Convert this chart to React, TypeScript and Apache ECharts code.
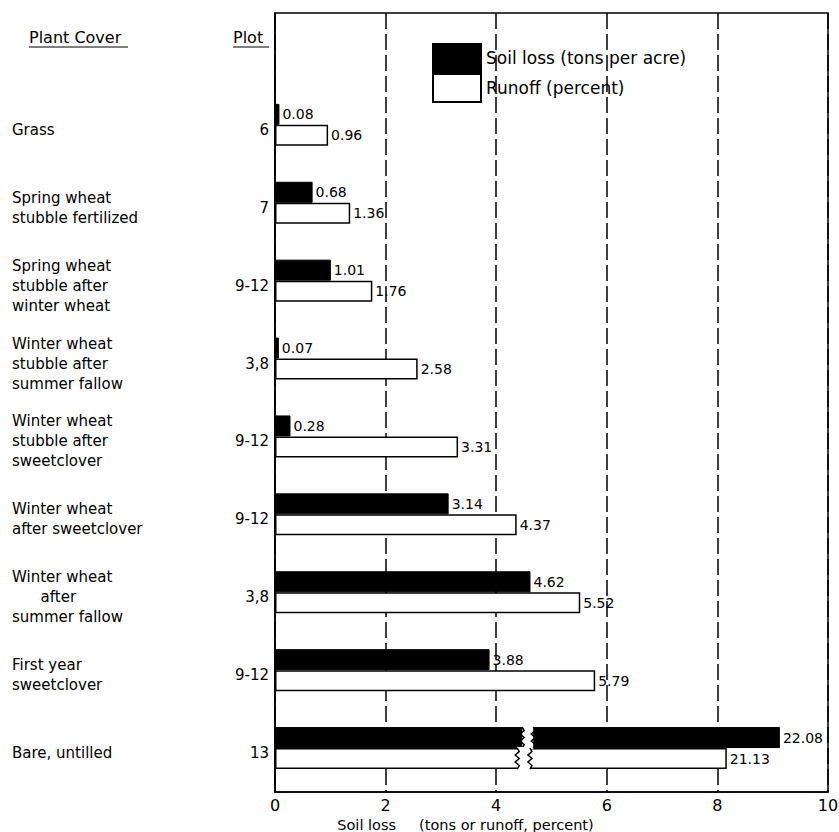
import React, { useEffect, useRef } from "react";
import * as echarts from "echarts";

// ---- data ----
const plantCover = [
  "",
  "Grass",
  "Spring wheat\nstubble fertilized",
  "Spring wheat\nstubble after\nwinter wheat",
  "Winter wheat\nstubble after\nsummer fallow",
  "Winter wheat\nstubble after\nsweetclover",
  "Winter wheat\nafter sweetclover",
  "Winter wheat\n      after\nsummer fallow",
  "First year\nsweetclover",
  "Bare, untilled",
];
const plots = ["", "6", "7", "9-12", "3,8", "9-12", "9-12", "3,8", "9-12", "13"];
const soilLoss = [null, 0.08, 0.68, 1.01, 0.07, 0.28, 3.14, 4.62, 3.88, 22.08];
const runoff = [null, 0.96, 1.36, 1.76, 2.58, 3.31, 4.37, 5.52, 5.79, 21.13];
// broken bars (values beyond the axis): drawn length and break range on the scale
const soilBrokenEnd = 9.13;
const runoffBrokenEnd = 8.17;
const soilBreak = [4.47, 4.67];
const runoffBreak = [4.38, 4.61];
const xTicks = [0, 2, 4, 6, 8, 10];

const AXIS_MAX = 10;
const BAR_W = 21;
const SPACER_W = 10;
const FONT = "DejaVu Sans";

export default function App() {
  const ref = useRef<HTMLDivElement>(null);
  useEffect(() => {
    if (!ref.current) return;
    const chart = echarts.init(ref.current, undefined, { renderer: "svg" });

    const soilShown = soilLoss.map((v) => (v != null && v > AXIS_MAX ? soilBrokenEnd : v));
    const runoffShown = runoff.map((v) => (v != null && v > AXIS_MAX ? runoffBrokenEnd : v));
    const bareIdx = soilLoss.findIndex((v) => v != null && v > AXIS_MAX);

    const breakData = [
      [soilBreak[0], soilBreak[1], bareIdx, 0],
      [runoffBreak[0], runoffBreak[1], bareIdx, 1],
    ];

    const wave = (x: number, y0: number, y1: number) => {
      const pts: number[][] = [];
      const n = 6;
      for (let i = 0; i <= n; i++) {
        const y = y0 + ((y1 - y0) * i) / n;
        const dx = i === 0 || i === n ? 0 : i % 2 === 0 ? -2 : 2;
        pts.push([x + dx, y]);
      }
      return pts;
    };

    const labelStyle = {
      show: true,
      position: "right",
      distance: 3,
      fontFamily: FONT,
      fontSize: 14,
      color: "#000",
    };

    const option: any = {
      animation: false,
      backgroundColor: "#fff",
      textStyle: { fontFamily: FONT, color: "#000" },
      grid: {
        left: 275,
        right: 11,
        top: 13,
        bottom: 40,
        containLabel: false,
        outerBoundsMode: "none",
        show: true,
        borderColor: "#000",
        borderWidth: 1.5,
      },
      legend: {
        orient: "vertical",
        left: 432,
        top: 43,
        padding: 0,
        itemGap: 0,
        itemWidth: 48,
        itemHeight: 28,
        icon: "rect",
        data: ["Soil loss (tons per acre)", "Runoff (percent)"],
        textStyle: { fontFamily: FONT, fontSize: 17, color: "#000" },
      },
      xAxis: {
        type: "value",
        min: 0,
        max: AXIS_MAX,
        interval: 2,
        axisLine: { show: true, lineStyle: { color: "#000", width: 1.5 } },
        axisTick: { show: false },
        axisLabel: {
          fontFamily: FONT,
          fontSize: 16,
          color: "#000",
          margin: 5,
          formatter: (v: number) => (xTicks.includes(v) ? String(v) : ""),
        },
        splitLine: {
          show: true,
          lineStyle: { color: "#000", width: 1.5, type: [16, 5] },
        },
        name: "Soil loss     (tons or runoff, percent)",
        nameLocation: "middle",
        nameGap: 22,
        nameTextStyle: {
          fontFamily: FONT,
          fontSize: 14.5,
          color: "#000",
          padding: [0, 172, 0, 0],
        },
      },
      yAxis: [
        {
          type: "category",
          inverse: true,
          data: plantCover,
          axisLine: { show: true, lineStyle: { color: "#000", width: 1.5 } },
          axisTick: { show: false },
          splitLine: { show: false },
          axisLabel: {
            fontFamily: FONT,
            fontSize: 15,
            color: "#000",
            margin: 6,
            formatter: (_v: string, i: number) => plots[i],
          },
        },
        {
          type: "category",
          inverse: true,
          position: "left",
          data: plantCover,
          axisLine: { show: false },
          axisTick: { show: false },
          splitLine: { show: false },
          axisLabel: {
            fontFamily: FONT,
            fontSize: 15,
            lineHeight: 20,
            color: "#000",
            align: "left",
            margin: 263,
          },
        },
      ],
      series: [
        {
          name: "Soil loss (tons per acre)",
          type: "bar",
          yAxisIndex: 0,
          data: soilShown,
          barWidth: BAR_W,
          barGap: "0%",
          itemStyle: { color: "#000", borderColor: "#000", borderWidth: 1 },
          label: {
            ...labelStyle,
            formatter: (p: any) => (soilLoss[p.dataIndex] == null ? "" : String(soilLoss[p.dataIndex])),
          },
        },
        {
          name: "Runoff (percent)",
          type: "bar",
          yAxisIndex: 0,
          data: runoffShown,
          barWidth: BAR_W,
          barGap: "0%",
          itemStyle: { color: "#fff", borderColor: "#000", borderWidth: 1.5 },
          label: {
            ...labelStyle,
            formatter: (p: any) => (runoff[p.dataIndex] == null ? "" : String(runoff[p.dataIndex])),
          },
        },
        {
          // empty spacer: lifts each bar pair slightly above the row centre, as in the original
          name: "spacer",
          type: "bar",
          yAxisIndex: 0,
          data: [],
          barWidth: SPACER_W,
          barGap: "0%",
          silent: true,
        },
        {
          type: "custom",
          yAxisIndex: 0,
          z: 10,
          silent: true,
          encode: { x: [0, 1], y: 2 },
          data: breakData,
          renderItem: (_params: any, api: any) => {
            const xs = api.value(0);
            const xe = api.value(1);
            const cat = api.value(2);
            const which = api.value(3);
            const p0 = api.coord([xs, cat]);
            const p1 = api.coord([xe, cat]);
            const mid = p0[1] - SPACER_W / 2;
            const yTop = which === 0 ? mid - BAR_W : mid;
            const yBot = yTop + BAR_W;
            return {
              type: "group",
              children: [
                {
                  type: "rect",
                  shape: { x: p0[0], y: yTop - 1, width: p1[0] - p0[0], height: BAR_W + 2 },
                  style: { fill: "#fff" },
                },
                {
                  type: "polyline",
                  shape: { points: wave(p0[0], yTop, yBot) },
                  style: { stroke: "#000", fill: null, lineWidth: 1.5 },
                },
                {
                  type: "polyline",
                  shape: { points: wave(p1[0], yTop, yBot) },
                  style: { stroke: "#000", fill: null, lineWidth: 1.5 },
                },
              ],
            };
          },
        },
      ],
      graphic: [
        {
          type: "text",
          left: 29,
          top: 29,
          style: { text: "Plant Cover", font: `16px '${FONT}'`, fill: "#000" },
        },
        {
          type: "line",
          shape: { x1: 29, y1: 47, x2: 128, y2: 47 },
          style: { stroke: "#000", lineWidth: 1.2 },
        },
        {
          type: "text",
          left: 233,
          top: 29,
          style: { text: "Plot", font: `16px '${FONT}'`, fill: "#000" },
        },
        {
          type: "line",
          shape: { x1: 233, y1: 47, x2: 269, y2: 47 },
          style: { stroke: "#000", lineWidth: 1.2 },
        },
      ],
    };

    chart.setOption(option);
    return () => chart.dispose();
  }, []);

  return (
    <div
      ref={ref}
      style={{ position: "absolute", left: 0, top: 0, width: 839, height: 832, background: "#fff" }}
    />
  );
}
